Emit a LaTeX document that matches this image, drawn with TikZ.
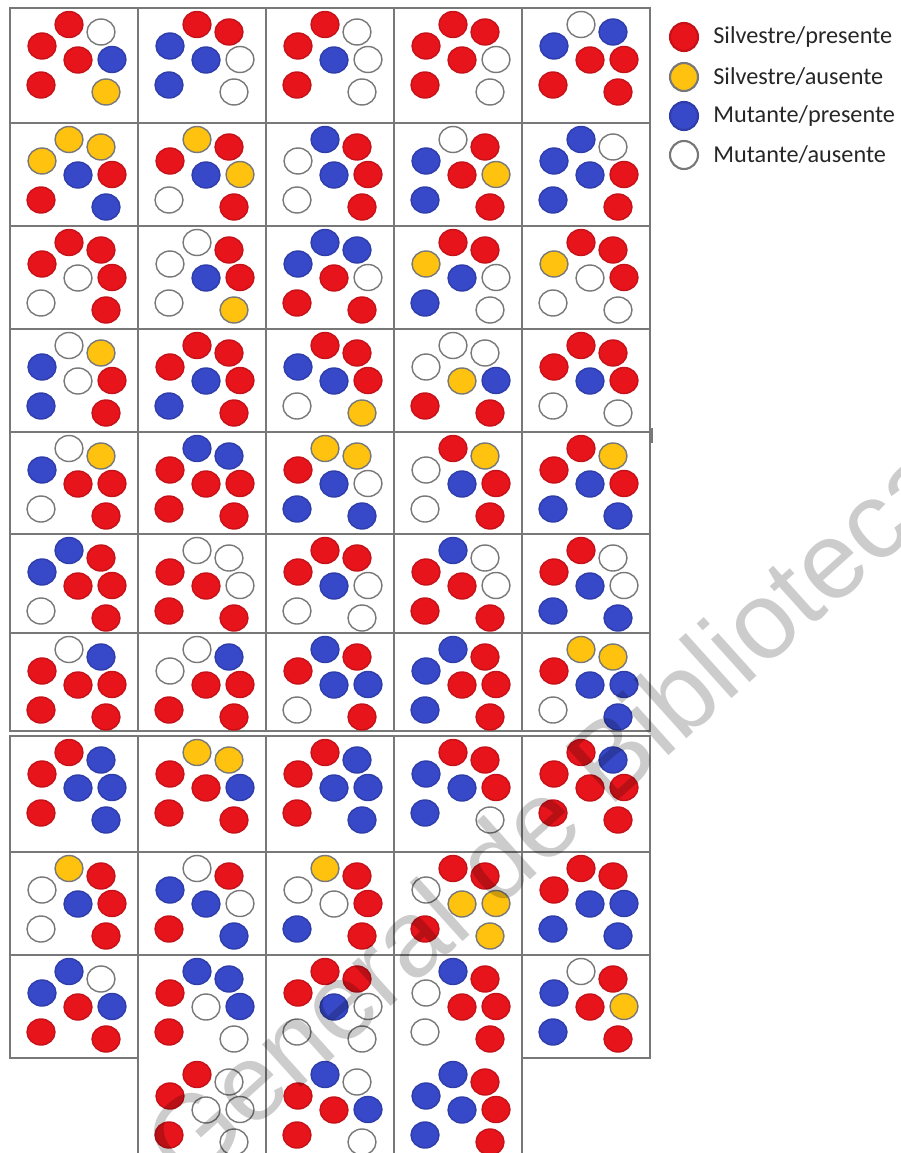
\documentclass[tikz,border=0pt]{standalone}
\usepackage{fontspec}
\newfontfamily\leyendafont{Carlito}
\newfontfamily\marcafont{Liberation Sans}
\definecolor{rojo}{RGB}{232,20,28}
\definecolor{amarillo}{RGB}{255,194,14}
\definecolor{azul}{RGB}{55,72,200}
\definecolor{borde}{RGB}{120,120,120}
\tikzset{
  sp/.style={fill=rojo, draw=rojo!85!black},
  sa/.style={fill=amarillo, draw=borde},
  mp/.style={fill=azul, draw=azul!85!black},
  ma/.style={fill=white, draw=borde},
  bola/.style={line width=0.8pt},
  caja/.style={draw=borde, line width=0.7pt},
  leyenda/.style={anchor=west, inner sep=0pt, text=black!85,
    font=\leyendafont\fontsize{13.8pt}{16pt}\selectfont},
}
% 一个格子：#1 左边 x，#2 上边 y，#3 七个圆的类型
\newcommand{\celda}[3]{%
  \foreach \tipo [count=\i from 0] in {#3} {
    \pgfmathsetmacro{\dx}{{59,91,32,68,102,31,96}[\i]}
    \pgfmathsetmacro{\dy}{{16.5,24,38,52,51.5,77,84}[\i]}
    \path[bola,\tipo] ({#1+\dx},{#2+\dy}) ellipse (0.28cm and 0.26cm);
  }%
}
% 一行五个格子：#1 上边 y
\newcommand{\fila}[6]{%
  \celda{10}{#1}{#2}\celda{138}{#1}{#3}\celda{266}{#1}{#4}%
  \celda{394}{#1}{#5}\celda{522}{#1}{#6}%
}
\begin{document}
\begin{tikzpicture}[x=0.02cm, y=-0.02cm]
    \useasboundingbox (0,0) rectangle (901,1153);
    % 格子边框
    \foreach \t/\b in {8/123,123/226,226/329,329/432,432/534,534/633,633/731,736/852,852/955}
      \foreach \x in {10,138,...,522}
        \draw[caja] (\x,\t) rectangle ({\x+128},\b);
    \draw[caja] (10,955) rectangle (138,1058);
    \draw[caja] (522,955) rectangle (650,1058);
    \draw[caja] (138,1153) -- (138,955) -- (522,955) -- (522,1153);
    \foreach \x in {266,394} \draw[caja] (\x,955) -- (\x,1153);
    \draw[caja, line width=1.2pt] (652,428) -- (652,443);
    % 圆
    \fila{8}{sp,ma,sp,sp,mp,sp,sa}{sp,sp,mp,mp,ma,mp,ma}{sp,ma,sp,mp,ma,sp,ma}{sp,sp,sp,sp,ma,sp,ma}{ma,mp,mp,sp,sp,sp,sp}
    \fila{123}{sa,sa,sa,mp,sp,sp,mp}{sa,sp,sp,mp,sa,ma,sp}{mp,sp,ma,mp,sp,ma,sp}{ma,sp,mp,sp,sa,mp,sp}{mp,ma,mp,mp,sp,mp,sp}
    \fila{226}{sp,sp,sp,ma,sp,ma,sp}{ma,sp,ma,mp,sp,ma,sa}{mp,mp,mp,sp,ma,sp,sp}{sp,sp,sa,mp,ma,mp,ma}{sp,sp,sa,ma,sp,ma,ma}
    \fila{329}{ma,sa,mp,ma,sp,mp,sp}{sp,sp,sp,mp,sp,mp,sp}{sp,sp,mp,mp,sp,ma,sa}{ma,ma,ma,sa,mp,sp,sp}{sp,sp,sp,mp,sp,ma,ma}
    \fila{432}{ma,sa,mp,sp,sp,ma,sp}{mp,mp,sp,sp,sp,sp,sp}{sa,sa,sp,mp,ma,mp,mp}{sp,sa,ma,mp,sp,ma,sp}{sp,sa,sp,mp,sp,mp,mp}
    \fila{534}{mp,sp,mp,sp,sp,ma,sp}{ma,ma,sp,sp,ma,sp,sp}{sp,sp,sp,mp,ma,ma,ma}{mp,ma,sp,sp,ma,sp,sp}{sp,ma,sp,mp,ma,mp,mp}
    \fila{633}{ma,mp,sp,sp,sp,sp,sp}{ma,mp,ma,sp,sp,sp,sp}{mp,sp,sp,mp,mp,ma,sp}{mp,sp,mp,sp,sp,mp,sp}{sa,sa,sp,mp,mp,ma,mp}
    \fila{736}{sp,mp,sp,mp,mp,sp,mp}{sa,sa,sp,sp,mp,sp,sp}{sp,mp,sp,mp,mp,sp,mp}{sp,sp,mp,mp,sp,mp,ma}{sp,mp,sp,sp,sp,sp,sp}
    \fila{852}{sa,sp,ma,mp,sp,ma,sp}{ma,sp,mp,mp,ma,sp,mp}{sa,sp,ma,ma,sp,mp,sp}{sp,sp,ma,sa,sa,sp,sa}{sp,sp,sp,mp,mp,mp,mp}
    \fila{955}{mp,ma,mp,sp,mp,sp,sp}{mp,mp,sp,ma,mp,sp,ma}{sp,sp,sp,mp,ma,ma,ma}{mp,sp,ma,sp,sp,ma,sp}{ma,sp,mp,sp,sa,mp,sp}
    \celda{138}{1058}{sp,ma,sp,ma,ma,sp,ma}
    \celda{266}{1058}{mp,ma,sp,sp,mp,sp,ma}
    \celda{394}{1058}{mp,sp,mp,mp,sp,mp,sp}
    % 图例
    \path[sp, line width=1.2pt] (684,37) ellipse (0.28cm and 0.28cm);
    \path[sa, line width=1.2pt] (684,77) ellipse (0.28cm and 0.28cm);
    \path[mp, line width=1.2pt] (684,116) ellipse (0.28cm and 0.28cm);
    \path[ma, line width=1.2pt] (684,155) ellipse (0.28cm and 0.28cm);
    \node[leyenda] (txt-sp) at (713,37) {Silvestre/presente};
    \node[leyenda] (txt-sa) at (713,77) {Silvestre/ausente};
    \node[leyenda] (txt-mp) at (713,116) {Mutante/presente};
    \node[leyenda] (txt-ma) at (713,155) {Mutante/ausente};
    % 水印
    \node[rotate=42, inner sep=0pt, text=black, text opacity=0.2,
      font=\marcafont\fontsize{62pt}{62pt}\selectfont] (marca) at (548,812) {General de Biblioteca};
\end{tikzpicture}
\end{document}
